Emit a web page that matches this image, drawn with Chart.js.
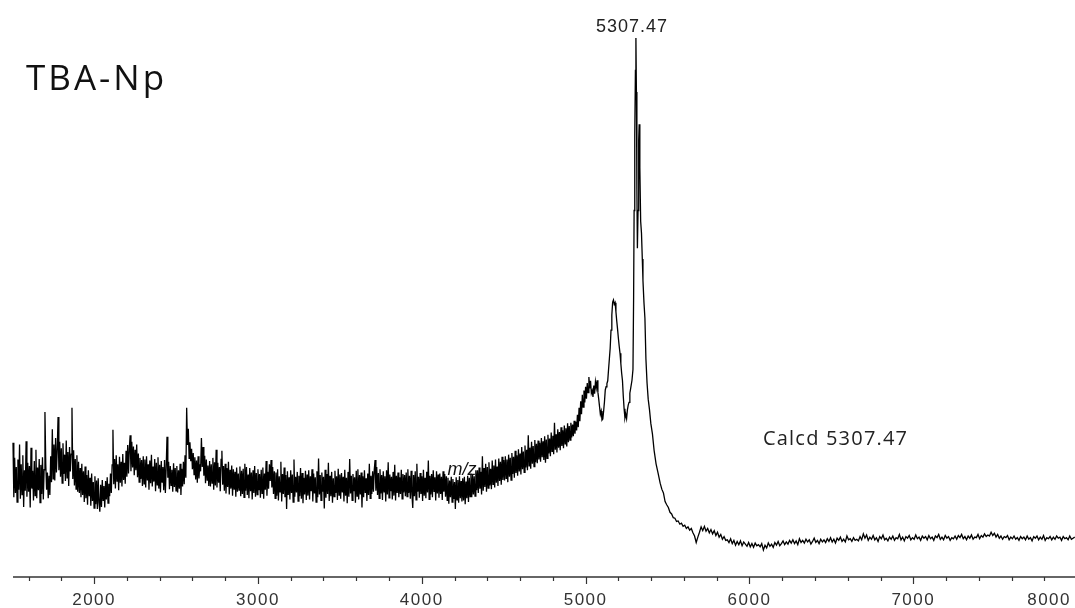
<!DOCTYPE html>
<html>
<head>
<meta charset="utf-8">
<script src="https://cdn.jsdelivr.net/npm/chart.js@4.4.1/dist/chart.umd.min.js"></script>
<style>
  html, body { margin: 0; padding: 0; background: #ffffff; }
  #wrap { width: 1075px; height: 608px; }
</style>
</head>
<body>
<div id="wrap"><canvas id="ms" width="1075" height="608"></canvas></div>
<script>
// MALDI-TOF spectrum of TBA-Np, relative intensity (%) against m/z.

// Low-mass region, sampled every 5 Da from 1505 (one row = 200 Da)
const lowStartMz = 1505;
const lowStepMz = 5;
const lowIntensity = [
  24.9, 14.8, 22.1, 15.6, 20.4, 13.9, 21.8, 16.2, 24.6, 14.5, 20.9, 15.3, 22.6, 13.0, 19.8, 16.0, 25.2, 14.9, 21.2, 15.8, 20.6, 12.9, 24.0, 16.4, 19.7, 14.2, 21.5, 15.1, 23.6, 14.6, 20.3, 16.1, 21.9, 13.8, 20.8, 15.4, 22.2, 14.4, 19.9, 30.6,
  21.0, 16.2, 19.4, 14.6, 18.8, 15.2, 22.4, 17.6, 27.4, 18.2, 24.6, 17.9, 25.8, 19.4, 23.6, 29.7, 19.8, 25.1, 18.6, 23.9, 17.4, 24.8, 19.1, 22.7, 17.8, 25.3, 18.4, 23.2, 16.9, 24.1, 19.6, 22.8, 31.4, 18.2, 23.5, 17.0, 21.9, 16.3, 22.6, 15.8,
  21.4, 15.6, 20.2, 14.8, 21.0, 15.2, 19.6, 13.9, 20.5, 14.6, 18.9, 13.4, 19.8, 15.0, 18.4, 13.2, 19.2, 14.1, 17.6, 12.8, 18.7, 13.5, 17.9, 12.6, 18.3, 13.8, 12.1, 17.1, 13.0, 18.0, 14.2, 16.9, 12.9, 17.8, 14.4, 18.5, 13.7, 17.3, 15.0, 19.2,
  15.6, 20.8, 27.3, 17.2, 21.9, 16.4, 22.6, 17.8, 20.9, 16.1, 22.3, 17.5, 21.4, 16.8, 22.8, 18.0, 21.2, 17.3, 23.4, 18.6, 24.5, 19.2, 23.8, 26.3, 19.6, 25.1, 20.3, 24.2, 18.9, 23.6, 19.8, 24.6, 18.5, 22.9, 17.6, 22.1, 18.2, 21.7, 16.9, 22.4,
  17.3, 21.8, 16.6, 22.4, 17.9, 20.9, 16.2, 21.6, 17.4, 22.7, 16.8, 20.5, 17.7, 21.9, 15.9, 21.2, 17.1, 22.2, 16.4, 20.8, 15.7, 21.5, 17.6, 20.4, 16.1, 21.7, 15.6, 20.3, 26.0, 18.4, 21.4, 16.3, 20.6, 17.0, 19.9, 15.8, 21.1, 16.7, 20.2, 16.0,
  20.6, 15.7, 19.8, 16.4, 21.0, 15.2, 20.1, 16.8, 21.4, 17.2, 22.6, 18.4, 31.4, 24.5, 27.5, 22.0, 25.0, 21.5, 23.8, 20.0, 23.0, 19.0, 22.2, 18.1, 21.6, 17.5, 22.4, 18.3, 20.9, 19.6, 25.8, 20.4, 24.1, 18.8, 22.5, 17.4, 21.8, 18.0, 20.7, 16.9,
  21.5, 16.8, 20.9, 17.4, 22.1, 16.2, 21.3, 17.0, 23.6, 16.6, 21.2, 17.5, 20.4, 15.9, 21.8, 23.4, 17.1, 20.6, 16.0, 21.0, 15.5, 20.2, 16.7, 21.4, 15.3, 19.9, 16.4, 20.7, 15.1, 20.0, 16.2, 19.5, 14.9, 20.3, 15.8, 19.2, 16.1, 20.5, 15.0, 19.7,
  15.4, 20.1, 14.8, 21.0, 16.0, 20.4, 15.2, 19.0, 14.6, 20.2, 15.9, 19.4, 14.4, 19.8, 15.6, 20.6, 14.9, 19.3, 15.3, 20.0, 16.1, 19.1, 14.7, 19.9, 15.5, 20.3, 14.5, 19.2, 16.2, 21.5, 15.1, 19.5, 16.4, 20.9, 17.8, 21.7, 16.6, 20.4, 15.4, 19.6,
  14.6, 19.4, 15.1, 20.0, 14.2, 18.7, 15.8, 21.4, 14.0, 19.1, 15.4, 20.3, 14.8, 18.9, 12.6, 19.6, 15.2, 18.5, 14.4, 19.8, 15.6, 19.0, 13.9, 21.8, 14.9, 18.6, 15.7, 19.5, 14.1, 18.8, 15.0, 20.2, 14.5, 19.3, 13.7, 18.4, 15.3, 19.7, 14.3, 19.0,
  15.1, 19.8, 14.4, 18.7, 15.9, 20.0, 14.0, 19.2, 15.5, 18.5, 13.9, 19.6, 14.8, 22.0, 15.3, 18.9, 14.2, 19.4, 15.8, 18.6, 12.7, 19.9, 14.7, 19.1, 15.4, 21.2, 14.1, 18.8, 15.0, 19.5, 13.8, 18.3, 14.9, 19.7, 15.6, 18.7, 14.3, 20.1, 15.2, 19.0,
  14.5, 19.3, 15.7, 18.6, 14.0, 19.9, 15.1, 18.4, 13.7, 19.5, 14.9, 21.9, 15.5, 18.8, 14.2, 19.1, 15.9, 18.5, 13.8, 19.7, 15.0, 20.0, 14.4, 18.9, 15.3, 19.4, 12.9, 18.7, 14.8, 19.8, 15.6, 18.3, 14.1, 19.2, 15.2, 21.0, 14.6, 18.8, 15.4, 19.6,
  15.8, 19.9, 21.7, 16.0, 20.4, 15.2, 19.3, 14.6, 20.0, 15.5, 18.9, 14.3, 19.6, 15.8, 18.7, 14.0, 19.8, 15.3, 21.3, 14.7, 19.0, 15.9, 18.6, 14.4, 19.5, 15.1, 20.8, 14.2, 18.8, 15.6, 19.4, 14.8, 18.5, 15.4, 19.9, 14.5, 19.1, 15.7, 18.9, 15.0,
  19.4, 14.9, 20.0, 15.6, 18.8, 14.5, 19.7, 15.2, 12.8, 18.9, 15.0, 19.6, 14.3, 21.0, 15.8, 18.6, 14.7, 19.3, 15.4, 18.7, 14.1, 19.9, 15.1, 18.4, 14.6, 19.5, 15.7, 21.6, 14.4, 18.8, 15.3, 19.1, 14.8, 19.8, 15.9, 18.5, 14.2, 19.6, 15.5, 19.0,
  14.7, 19.2, 15.4, 18.6, 14.3, 19.6, 15.8, 19.1, 14.9, 18.7, 14.2, 18.4, 13.6, 17.9, 14.8, 18.6, 13.9, 18.2, 14.5, 17.6, 12.6, 18.5, 14.3, 18.0, 13.8, 18.7, 14.6, 17.8, 14.0, 18.3, 14.2, 18.6, 13.5, 17.7, 14.6, 18.8, 13.9, 18.4, 14.9, 19.2,
  14.8, 18.9, 15.3, 18.7, 15.0, 19.8, 16.1, 19.8, 15.6, 20.3, 16.4, 19.5, 15.3, 22.4, 16.0, 20.2, 16.7, 21.0, 15.8, 20.4, 16.5, 21.3, 17.0, 20.1, 16.3, 21.6, 17.2, 20.7, 16.6, 21.8, 17.5, 20.5, 16.9, 22.0, 17.8, 21.4, 17.1, 22.3, 18.0, 21.7,
  17.9, 22.4, 18.3, 21.8, 17.6, 22.7, 18.6, 22.1, 18.0, 23.0, 19.1, 22.3, 18.4, 23.4, 19.3, 22.6, 18.8, 23.7, 19.6, 22.9, 19.0, 24.1, 20.0, 23.3, 19.4, 24.4, 20.3, 23.6, 19.8, 26.3, 20.6, 24.0, 20.1, 25.1, 21.0, 24.3, 20.5, 25.4, 21.3, 24.7,
  21.1, 25.3, 21.8, 24.9, 21.4, 25.8, 22.2, 25.2, 21.7, 26.1, 21.2, 25.5, 22.0, 26.4, 22.9, 25.7, 22.4, 26.8, 23.3, 26.2, 22.8, 28.6, 23.6, 26.5, 23.1, 27.4, 24.0, 26.9, 23.5, 27.8, 24.3, 27.2, 23.9, 28.1, 24.7, 27.6, 24.2, 28.5, 25.0, 28.0,
  25.4, 28.6, 25.9, 28.3, 26.1, 29.0, 26.6, 28.8, 27.2, 30.1, 27.8, 31.4, 28.9, 32.6, 30.2, 33.8, 31.5, 34.6, 32.4, 35.3, 33.1, 36.0, 34.2, 37.1, 35.0, 36.4, 34.1, 34.6, 33.4, 35.5, 34.0, 36.2, 35.1, 36.5, 34.3, 33.0, 31.6, 30.2, 30.8, 29.1,
  29.3, 30.8, 32.5, 34.7, 35.3, 35.9, 36.4, 38.5, 40.5, 42.5, 45.8, 48.6, 51.0, 51.4, 50.6, 50.9, 49.2, 47.5, 46.0, 44.3, 42.8, 41.5, 39.6, 37.8, 36.4, 33.5, 31.2, 29.5, 30.2, 29.4, 31.0, 31.9, 32.4, 34.1, 35.0
];

// Molecular ion region, irregular m/z sampling
const peakMz = [
  5283, 5289, 5293, 5296, 5300, 5304, 5307, 5310, 5313, 5316, 5320, 5324, 5327, 5331, 5336,
  5341, 5346, 5350, 5356, 5362, 5368, 5375, 5382, 5390, 5398, 5408, 5418, 5430, 5442, 5455
];
const peakIntensity = [
  36.5, 38.5, 52.0, 68.0, 82.0, 94.0, 100.0, 90.0, 72.0, 61.0, 68.0, 81.0, 84.0, 76.0, 66.0,
  63.8, 59.0, 55.0, 51.0, 48.0, 40.5, 36.0, 33.0, 31.0, 28.5, 26.5, 23.5, 21.0, 19.3, 17.4
];

// High-mass tail, sampled every 10 Da from 5465
const tailStartMz = 5465;
const tailStepMz = 10;
const tailIntensity = [
  16.3, 15.6, 14.0, 13.4, 12.9, 12.0, 11.7, 11.0, 10.9, 10.3, 10.4, 9.8, 10.0, 9.4, 9.6, 9.0, 9.3, 8.7, 9.0, 8.2,
  7.6, 6.4, 7.4, 8.3, 9.3, 8.6, 9.4, 8.5, 9.0, 8.2, 8.8, 8.0, 8.6, 7.7, 8.3, 7.4, 7.9, 7.0, 7.5, 6.8,
  6.9, 6.4, 7.1, 6.2, 6.8, 5.9, 6.6, 6.0, 6.7, 5.8, 6.5, 6.1, 5.7, 6.4, 5.6, 6.2, 5.5, 6.3, 5.8, 6.0,
  5.6, 6.2, 5.0, 5.9, 5.4, 6.3, 5.7, 6.1, 5.5, 6.4, 5.9, 6.6, 5.8, 6.2, 6.7, 6.0, 6.5, 6.1, 6.8, 6.3,
  6.9, 6.2, 6.7, 6.0, 7.1, 6.4, 6.8, 6.3, 7.0, 6.5, 6.9, 6.1, 6.6, 7.2, 6.4, 6.8, 6.2, 7.0, 6.5, 6.9,
  6.4, 7.1, 6.6, 7.3, 6.5, 7.0, 6.3, 7.2, 6.8, 7.4, 6.6, 7.0, 6.5, 7.6, 6.9, 7.1, 6.6, 7.3, 6.8, 7.0,
  6.7, 7.5, 6.9, 8.0, 7.2, 7.8, 6.8, 7.4, 7.0, 7.7, 6.9, 7.3, 6.6, 7.5, 7.1, 7.8, 6.9, 7.2, 6.7, 7.4,
  7.0, 7.6, 6.8, 7.3, 7.1, 7.9, 6.9, 7.4, 6.7, 7.5, 7.2, 7.7, 6.9, 7.3, 7.0, 7.8, 7.1, 7.4, 6.8, 7.6,
  7.2, 7.5, 6.9, 7.7, 7.1, 7.4, 6.8, 7.6, 7.3, 7.9, 7.0, 7.4, 6.9, 7.7, 7.2, 7.5, 6.8, 7.3, 7.1, 7.6,
  7.0, 7.7, 7.3, 7.9, 7.1, 7.5, 6.9, 7.6, 7.2, 7.8, 7.0, 7.4, 7.3, 7.9, 7.1, 7.7, 7.4, 8.0, 7.5, 7.8,
  7.6, 8.3, 7.7, 8.1, 7.4, 7.9, 7.2, 7.6, 7.0, 7.5, 7.3, 7.7, 6.9, 7.4, 7.1, 7.6, 7.0, 7.3, 6.8, 7.5,
  7.1, 7.4, 6.9, 7.6, 7.0, 7.3, 6.7, 7.5, 7.2, 7.6, 6.9, 7.4, 7.0, 7.7, 6.8, 7.3, 7.1, 7.5, 6.9, 7.4,
  7.0, 7.6, 7.2, 7.4, 6.8, 7.5, 7.1, 7.3, 6.9, 7.6, 7.0, 7.2, 7.4
];

// Axis ticks (m/z)
const majorTicks = [2000, 3000, 4000, 5000, 6000, 7000, 8000];
const tickLabels = ['2000', '3000', '4000', '5000', '6000', '7000', '8000'];
const minorStep = 200;
const axisMin = 1505;
const axisMax = 7987;

// Annotations
const titleText = 'TBA-Np';
const peakLabelMz = 5307;
const peakLabelText = '5307.47';
const calcText = 'Calcd 5307.47';
const axisTitle = 'm/z';

const points = [];
lowIntensity.forEach((v, i) => points.push({ x: lowStartMz + i * lowStepMz, y: v }));
peakMz.forEach((m, i) => points.push({ x: m, y: peakIntensity[i] }));
tailIntensity.forEach((v, i) => points.push({ x: tailStartMz + i * tailStepMz, y: v }));

const axisAndLabels = {
  id: 'axisAndLabels',
  afterDatasetsDraw(chart) {
    const { ctx, chartArea, scales } = chart;
    const xs = scales.x;
    const axisY = chartArea.bottom;
    ctx.save();

    // axis line
    ctx.strokeStyle = '#333333';
    ctx.lineWidth = 1.3;
    ctx.beginPath();
    ctx.moveTo(chartArea.left, axisY);
    ctx.lineTo(chart.width, axisY);
    ctx.stroke();

    // tick marks
    ctx.lineWidth = 1.2;
    for (let v = 1600; v <= axisMax; v += minorStep) {
      const px = Math.round(xs.getPixelForValue(v)) + 0.5;
      const len = majorTicks.includes(v) ? 7 : 4;
      ctx.beginPath();
      ctx.moveTo(px, axisY);
      ctx.lineTo(px, axisY + len);
      ctx.stroke();
    }

    // tick labels
    ctx.fillStyle = '#333333';
    ctx.font = '17px "Liberation Sans", Arial, sans-serif';
    ctx.letterSpacing = '1.5px';
    ctx.textBaseline = 'alphabetic';
    ctx.textAlign = 'left';
    majorTicks.forEach((v, i) => {
      const w = ctx.measureText(tickLabels[i]).width;
      let left = xs.getPixelForValue(v) - w / 2;
      if (left + w > chart.width - 4) left = chart.width - 4 - w;
      ctx.fillText(tickLabels[i], left, 605);
    });

    // peak label
    ctx.font = '18px "Liberation Sans", Arial, sans-serif';
    ctx.letterSpacing = '1px';
    ctx.fillStyle = '#222222';
    const pw = ctx.measureText(peakLabelText).width;
    ctx.fillText(peakLabelText, xs.getPixelForValue(peakLabelMz) - 4 - pw / 2, 32);

    // sample name
    ctx.font = '35px "Open Sans", sans-serif';
    ctx.letterSpacing = '3px';
    ctx.fillStyle = '#111111';
    ctx.fillText(titleText, 26, 90);

    // calculated mass
    ctx.font = '20px "Open Sans", sans-serif';
    ctx.letterSpacing = '1.2px';
    ctx.fillStyle = '#222222';
    ctx.fillText(calcText, 763, 445);

    // axis title
    ctx.font = 'italic 18px "Liberation Sans", Arial, sans-serif';
    ctx.letterSpacing = '0px';
    ctx.fillStyle = '#111111';
    ctx.textAlign = 'center';
    ctx.fillText(axisTitle, 462, 475);

    ctx.restore();
  }
};

new Chart(document.getElementById('ms'), {
  type: 'line',
  data: {
    datasets: [{
      data: points,
      borderColor: '#000000',
      borderWidth: 1.3,
      borderJoinStyle: 'miter',
      pointRadius: 0,
      tension: 0,
      fill: false,
      clip: false
    }]
  },
  options: {
    responsive: false,
    animation: false,
    devicePixelRatio: 1,
    layout: { padding: { left: 13, right: 0, top: 38, bottom: 31 } },
    plugins: { legend: { display: false }, tooltip: { enabled: false } },
    scales: {
      x: { type: 'linear', min: axisMin, max: axisMax, display: false },
      y: { min: 0, max: 100, display: false }
    }
  },
  plugins: [axisAndLabels]
});
</script>
</body>
</html>
